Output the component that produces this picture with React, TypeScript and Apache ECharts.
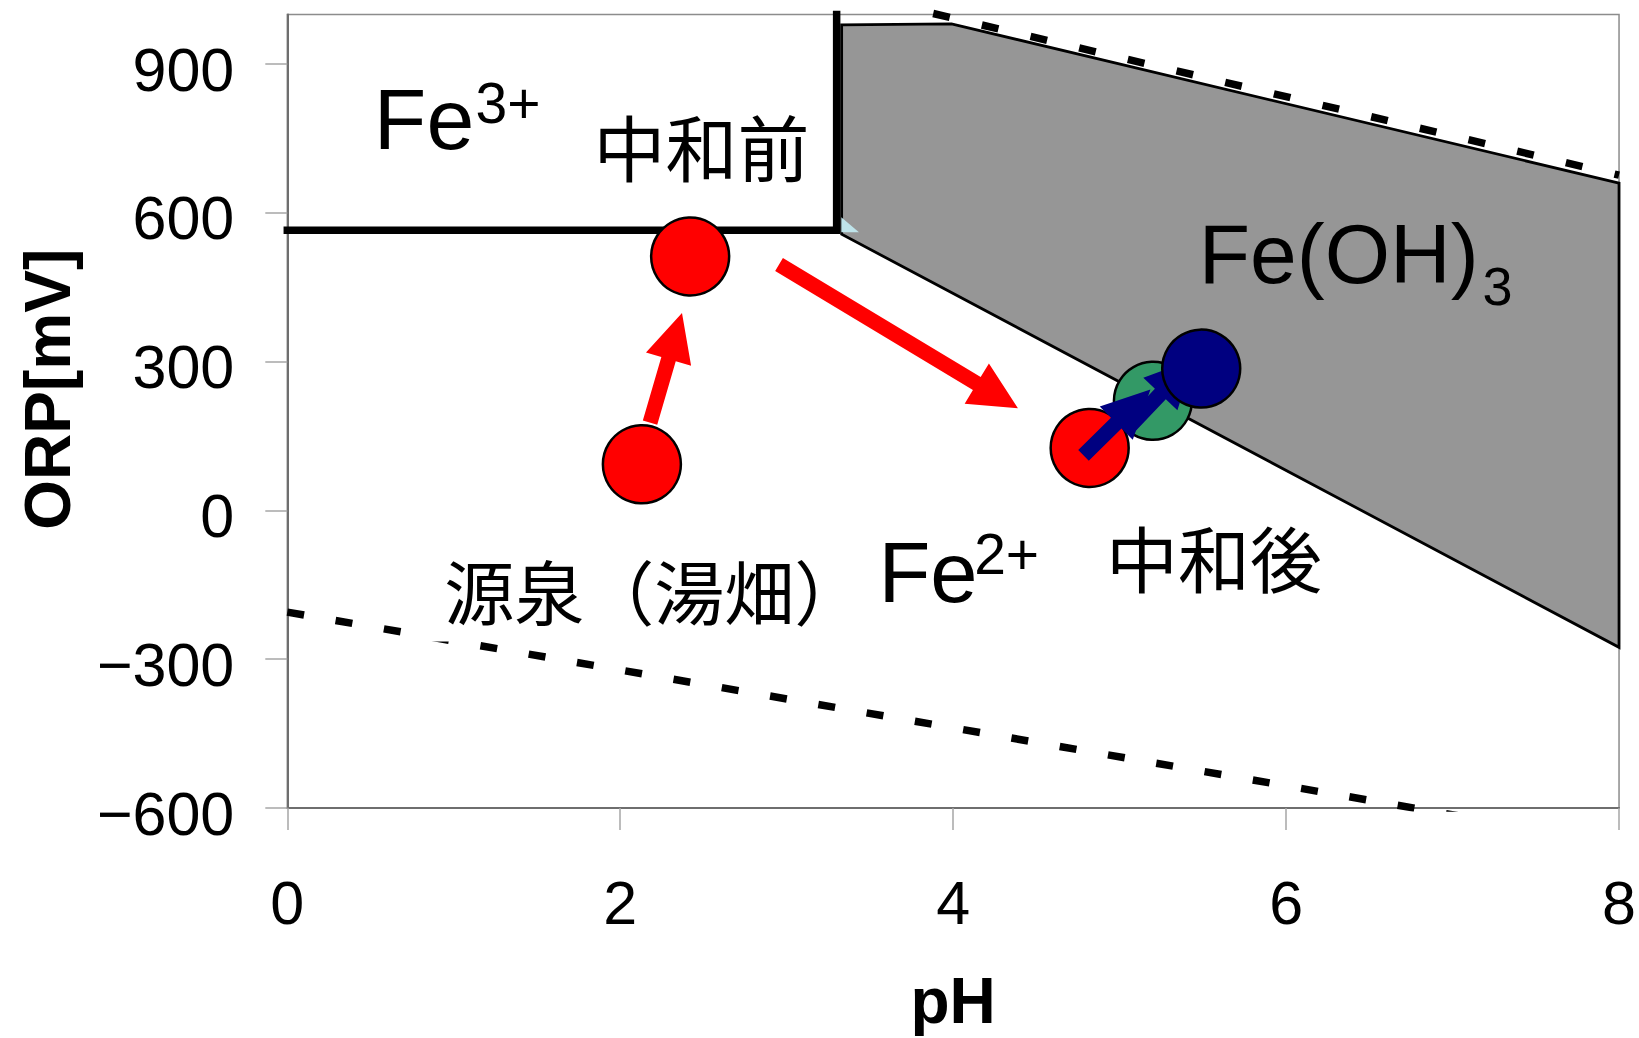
import React, { useEffect, useRef } from "react";
import * as echarts from "echarts";

// Axis ticks
const phTicks = [0, 2, 4, 6, 8];
const orpTicks = [-600, -300, 0, 300, 600, 900];

// Measured samples (pH, ORP mV)
const redPh = [2.13, 2.42, 4.82];
const redOrp = [93, 512, 126];
const greenPh = [5.2];
const greenOrp = [221];
const navyPh = [5.49];
const navyOrp = [286];

// Fe3+/Fe2+ boundary (horizontal then vertical at the hydrolysis pH)
const fe3BoundaryPh = [0, 3.3, 3.3];
const fe3BoundaryOrp = [565, 565, 1000];

// Fe(OH)3 stability field
const hydroxidePh = [3.33, 3.33, 3.99, 8, 8];
const hydroxideOrp = [557, 979, 981, 660, -276];

// small sliver at the corner of the Fe(OH)3 field
const sliverPh = [3.328, 3.434, 3.328];
const sliverOrp = [591, 561, 561];

// water stability limits
const waterUpperPh = [3.88, 8];
const waterUpperOrp = [1002, 676];
const waterLowerPh = [0, 8];
const waterLowerOrp = [-205, -672];

// arrows: [fromPh, fromOrp, toPh, toOrp]
const redArrows = [
  [2.179, 177, 2.371, 398],
  [2.954, 496, 4.389, 206],
];
const navyArrows = [
  [4.783, 111, 5.185, 244],
  [5.059, 169, 5.443, 305],
];

// annotation texts and their anchor points
const labelTexts = ["Fe", "3+", "中和前", "Fe(OH)", "3", "源泉（湯畑）", "Fe", "2+", "中和後"];
const labelPh = [0.52, 1.131, 1.839, 5.475, 7.18, 0.81, 3.551, 4.126, 4.918];
const labelOrp = [789, 821, 737, 518, 452, -159.6, -125, -88.5, -91.5];

const LATIN = "'Liberation Sans', Arial, sans-serif";
const CJK = "'Noto Sans CJK JP', sans-serif";
const labelFontSize = [86, 57, 72, 84, 54, 70, 85, 57, 72];
const labelFamily = [LATIN, LATIN, CJK, LATIN, LATIN, CJK, LATIN, LATIN, CJK];

const toPairs = (xs: number[], ys: number[]) => xs.map((x, i) => [x, ys[i]]);

function polygonSeries(xs: number[], ys: number[], fill: string, stroke: string | null, z: number) {
  const pts = toPairs(xs, ys);
  return {
    type: "custom",
    z,
    silent: true,
    data: pts,
    renderItem: (params: any, api: any) => {
      if (params.dataIndex !== 0) return null;
      const points = pts.map((p) => api.coord(p));
      return {
        type: "polygon",
        shape: { points },
        style: stroke
          ? { fill, stroke, lineWidth: 2.8, lineJoin: "miter" }
          : { fill },
      };
    },
  };
}

const SHAFT = 15;
const HEAD_W = 47;
const HEAD_L = 48;

function arrowSeries(arrows: number[][], color: string, z: number) {
  return {
    type: "custom",
    z,
    silent: true,
    data: arrows,
    encode: { x: [0, 2], y: [1, 3] },
    renderItem: (_params: any, api: any) => {
      const a = api.coord([api.value(0), api.value(1)]);
      const b = api.coord([api.value(2), api.value(3)]);
      const dx = b[0] - a[0];
      const dy = b[1] - a[1];
      const len = Math.hypot(dx, dy);
      const ux = dx / len;
      const uy = dy / len;
      const nx = -uy;
      const ny = ux;
      const bx = b[0] - ux * HEAD_L;
      const by = b[1] - uy * HEAD_L;
      const hs = SHAFT / 2;
      const hh = HEAD_W / 2;
      const points = [
        [a[0] + nx * hs, a[1] + ny * hs],
        [bx + nx * hs, by + ny * hs],
        [bx + nx * hh, by + ny * hh],
        [b[0], b[1]],
        [bx - nx * hh, by - ny * hh],
        [bx - nx * hs, by - ny * hs],
        [a[0] - nx * hs, a[1] - ny * hs],
      ];
      return { type: "polygon", shape: { points }, style: { fill: color } };
    },
  };
}

function circleSeries(xs: number[], ys: number[], color: string, z: number) {
  return {
    type: "scatter",
    z,
    silent: true,
    symbol: "circle",
    symbolSize: 78,
    data: toPairs(xs, ys),
    itemStyle: { color, borderColor: "#000", borderWidth: 2.5, opacity: 1 },
  };
}

const minusFmt = (v: number) => (v < 0 ? "\u2212" + Math.abs(v) : String(v));

export default function App() {
  const ref = useRef<HTMLDivElement>(null);

  useEffect(() => {
    if (!ref.current) return;
    const chart = echarts.init(ref.current, null, { renderer: "svg" });

    const option: any = {
      animation: false,
      backgroundColor: "#fff",
      grid: {
        left: 287.3,
        top: 14.5,
        width: 1334.2,
        height: 794.5,
        show: true,
        borderColor: "#8c8c8c",
        borderWidth: 1.5,
        backgroundColor: "#fff",
      },
      xAxis: {
        type: "value",
        min: 0,
        max: 8,
        interval: 2,
        name: "pH",
        nameLocation: "middle",
        nameGap: 193,
        nameTextStyle: {
          fontFamily: LATIN,
          fontWeight: "bold",
          fontSize: 64,
          color: "#000",
          verticalAlign: "middle",
        },
        axisLine: { show: true, onZero: false, lineStyle: { color: "#6e6e6e", width: 2 } },
        axisTick: {
          show: true,
          inside: false,
          length: 22,
          lineStyle: { color: "#a6a6a6", width: 1.5 },
          customValues: phTicks,
        },
        axisLabel: {
          show: true,
          customValues: phTicks,
          margin: 95,
          verticalAlign: "middle",
          fontFamily: LATIN,
          fontSize: 61,
          color: "#000",
        },
        splitLine: { show: false },
      },
      yAxis: {
        type: "value",
        min: -600,
        max: 1000,
        interval: 300,
        name: "ORP[mV]",
        nameLocation: "middle",
        nameGap: 239,
        nameRotate: 90,
        nameTextStyle: {
          fontFamily: LATIN,
          fontWeight: "bold",
          fontSize: 64,
          color: "#000",
          verticalAlign: "middle",
          padding: [0, 0, 0, 44],
        },
        axisLine: { show: true, onZero: false, lineStyle: { color: "#6e6e6e", width: 2 } },
        axisTick: {
          show: true,
          inside: false,
          length: 22,
          lineStyle: { color: "#a6a6a6", width: 1.5 },
          customValues: orpTicks,
        },
        axisLabel: {
          show: true,
          customValues: orpTicks,
          margin: 53,
          verticalAlign: "top",
          lineHeight: 11,
          fontFamily: LATIN,
          fontSize: 61,
          color: "#000",
          formatter: minusFmt,
        },
        splitLine: { show: false },
      },
      series: [
        polygonSeries(hydroxidePh, hydroxideOrp, "#969696", "#000", 1),
        polygonSeries(sliverPh, sliverOrp, "#bfe4ea", null, 2),
        {
          type: "line",
          z: 2,
          silent: true,
          clip: true,
          symbol: "none",
          data: toPairs(waterLowerPh, waterLowerOrp),
          lineStyle: { color: "#000", width: 7.5, type: [17, 32], cap: "butt" },
        },
        {
          type: "line",
          z: 2,
          silent: true,
          clip: false,
          symbol: "none",
          data: toPairs(waterUpperPh, waterUpperOrp),
          lineStyle: { color: "#000", width: 7.5, type: [17, 33], cap: "butt" },
        },
        {
          type: "line",
          z: 3,
          silent: true,
          clip: false,
          symbol: "none",
          data: toPairs(fe3BoundaryPh, fe3BoundaryOrp),
          lineStyle: { color: "#000", width: 7.5, cap: "square", join: "miter" },
        },
        {
          type: "custom",
          z: 4,
          silent: true,
          data: toPairs(labelPh, labelOrp),
          renderItem: (params: any, api: any) => {
            const i = params.dataIndex;
            const p = api.coord([api.value(0), api.value(1)]);
            const boxed = labelTexts[i] === "源泉（湯畑）";
            const style: any = {
              text: labelTexts[i],
              fill: "#000",
              fontSize: labelFontSize[i],
              fontFamily: labelFamily[i],
              align: "left",
              verticalAlign: "middle",
            };
            if (boxed) {
              style.backgroundColor = "#fff";
              style.padding = [6, 0, 18, 22];
              style.lineHeight = 80;
            }
            return { type: "text", x: p[0], y: p[1], style };
          },
        },
        arrowSeries(redArrows, "#ff0000", 5),
        circleSeries(redPh, redOrp, "#ff0000", 6),
        circleSeries(greenPh, greenOrp, "#339966", 6),
        arrowSeries(navyArrows, "#000080", 7),
        circleSeries(navyPh, navyOrp, "#000080", 8),
      ],
    };

    chart.setOption(option);
    return () => chart.dispose();
  }, []);

  return (
    <div
      ref={ref}
      style={{ position: "fixed", left: 0, top: 0, width: 1639, height: 1038, background: "#fff" }}
    />
  );
}
